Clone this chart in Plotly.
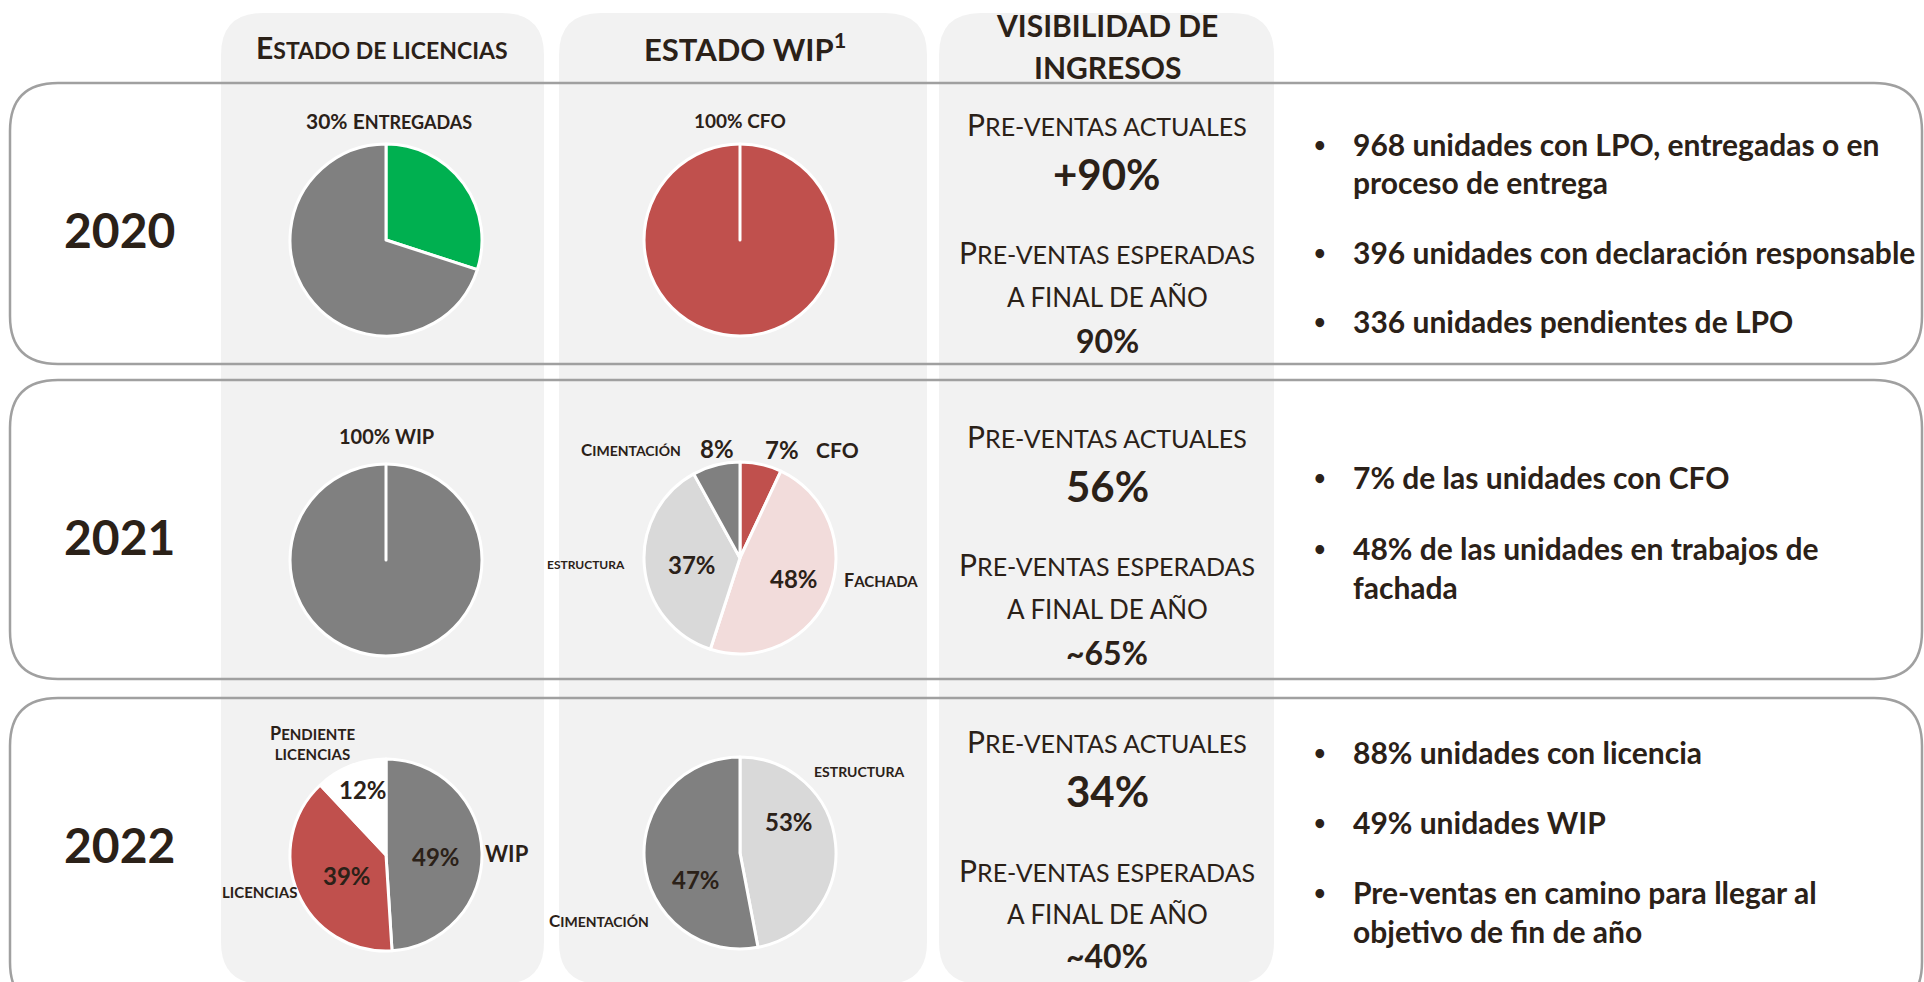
import plotly.graph_objects as go

# ---------------- data ----------------
years = ["2020", "2021", "2022"]

col_headers = ["Estado de licencias", "ESTADO WIP<sup>1</sup>", "VISIBILIDAD DE", "INGRESOS"]

# Estado de licencias (slices clockwise from 12 o'clock)
lic_2020_labels = ["Entregadas", "Resto"]
lic_2020_values = [30, 70]
lic_2021_labels = ["WIP", "Otros"]
lic_2021_values = [100, 0]
lic_2022_labels = ["WIP", "Licencias", "Pendiente licencias"]
lic_2022_values = [49, 39, 12]

# Estado WIP
wip_2020_labels = ["CFO", "Otros"]
wip_2020_values = [100, 0]
wip_2021_labels = ["CFO", "Fachada", "Estructura", "Cimentación"]
wip_2021_values = [7, 48, 37, 8]
wip_2022_labels = ["Estructura", "Cimentación"]
wip_2022_values = [47, 53]
wip_2022_text = ["53%", "47%"]

# Visibilidad de ingresos
preventas_actuales = ["+90%", "56%", "34%"]
preventas_esperadas = ["90%", "~65%", "~40%"]

bullets_2020 = [["968 unidades con LPO, entregadas o en", "proceso de entrega"],
                ["396 unidades con declaración responsable"],
                ["336 unidades pendientes de LPO"]]
bullets_2021 = [["7% de las unidades con CFO"],
                ["48% de las unidades en trabajos de", "fachada"]]
bullets_2022 = [["88% unidades con licencia"],
                ["49% unidades WIP"],
                ["Pre-ventas en camino para llegar al", "objetivo de fin de año"]]

# ---------------- styling ----------------
W, H = 1924, 982
TXT = "#2b2118"
FONT = "Lato"
GREEN = "#00b050"
GREY = "#808080"
RED = "#c0504d"
PINK = "#f2dcdb"
LGREY = "#d9d9d9"
WHITE = "#ffffff"
PANEL = "#f2f2f2"

fig = go.Figure()

def rrect(x0, y0, x1, y1, r):
    return (f"M{x0+r},{y0} L{x1-r},{y0} Q{x1},{y0} {x1},{y0+r} L{x1},{y1-r} "
            f"Q{x1},{y1} {x1-r},{y1} L{x0+r},{y1} Q{x0},{y1} {x0},{y1-r} "
            f"L{x0},{y0+r} Q{x0},{y0} {x0+r},{y0} Z")

shapes = []
# column panels
for x0, x1 in [(221, 544), (559, 927), (939, 1274)]:
    shapes.append(dict(type="path", path=rrect(x0, 13, x1, 984, 42), xref="x", yref="y",
                       fillcolor=PANEL, line=dict(width=0), layer="below"))
# row boxes
for y0, y1 in [(83, 364), (380, 679), (698, 1010)]:
    shapes.append(dict(type="path", path=rrect(10, y0, 1922, y1, 48), xref="x", yref="y",
                       fillcolor="rgba(0,0,0,0)", line=dict(color="#a0a0a0", width=2.5), layer="below"))

R = 96
def add_pie(labels, values, colors, cx, cy):
    fig.add_trace(go.Pie(
        labels=labels, values=values, sort=False, direction="clockwise", rotation=0,
        marker=dict(colors=colors, line=dict(color=WHITE, width=3)),
        textinfo="none", hoverinfo="label+percent", showlegend=False,
        domain=dict(x=[(cx - R) / W, (cx + R) / W], y=[1 - (cy + R) / H, 1 - (cy - R) / H]),
    ))

add_pie(lic_2020_labels, lic_2020_values, [GREEN, GREY], 386, 240)
add_pie(wip_2020_labels, wip_2020_values, [RED, RED], 740, 240)
add_pie(lic_2021_labels, lic_2021_values, [GREY, GREY], 386, 560)
add_pie(wip_2021_labels, wip_2021_values, [RED, PINK, LGREY, GREY], 740, 558)
add_pie(lic_2022_labels, lic_2022_values, [GREY, RED, WHITE], 386, 855)
add_pie(wip_2022_labels, wip_2022_values, [LGREY, GREY], 740, 853)

def sc(text, big, small):
    """Manual small caps: capitalised initials at `big`, rest upper-cased at `small`."""
    out = []
    for word in text.split(" "):
        if word and word[0].isupper():
            out.append(f'<span style="font-size:{big}px">{word[0]}</span>'
                       f'<span style="font-size:{small}px">{word[1:].upper()}</span>')
        else:
            out.append(f'<span style="font-size:{small}px">{word.upper()}</span>')
    return " ".join(out)

anns = []
def ann(text, x, y, size, bold=True, xanchor="center", yanchor="middle"):
    anns.append(dict(text=text, x=x, y=y, xref="x", yref="y", showarrow=False,
                     xanchor=xanchor, yanchor=yanchor,
                     font=dict(family=FONT, size=size, color=TXT, weight=700 if bold else 400)))

# headers
ann(sc(col_headers[0], 30, 23), 382, 47, 23)
ann(col_headers[1], 745, 47, 31)
ann(col_headers[2], 1107, 25, 30)
ann(col_headers[3], 1107, 67, 30)

# years
for yv, yy in zip(years, [229, 536, 844]):
    ann(yv, 119, yy, 48)

# pie labels
ann(f"{lic_2020_values[0]}% " + sc("Entregadas", 21, 18), 389, 120, 21)
ann(f"{wip_2020_values[0]}% {wip_2020_labels[0]}", 740, 120, 19)
ann(f"{lic_2021_values[0]}% {lic_2021_labels[0]}", 386, 436, 20)

ann(sc("Cimentación", 17, 14), 683, 449, 14, xanchor="right")
ann(f"{wip_2021_values[3]}%", 717, 448, 24)
ann(f"{wip_2021_values[0]}%", 782, 449, 24)
ann("CFO", 837, 449, 21)
ann(sc("estructura", 12, 12), 627, 564, 12, xanchor="right")
ann(f"{wip_2021_values[2]}%", 692, 564, 24)
ann(f"{wip_2021_values[1]}%", 794, 578, 24)
ann(sc("Fachada", 18, 15), 842, 580, 15, xanchor="left")

ann(sc("Pendiente", 18, 15) + "<br>" + sc("licencias", 15, 15), 312, 742, 15)
ann(f"{lic_2022_values[2]}%", 363, 789, 24)
ann(f"{lic_2022_values[0]}%", 436, 856, 24)
ann("WIP", 507, 853, 22)
ann(f"{lic_2022_values[1]}%", 347, 875, 24)
ann(sc("licencias", 15, 15), 299, 892, 15, xanchor="right")

ann(sc("estructura", 14, 14), 859, 771, 14)
ann(wip_2022_text[0], 789, 821, 24)
ann(wip_2022_text[1], 696, 879, 24)
ann(sc("Cimentación", 17, 14), 599, 920, 14)

# middle column
CX = 1107
for (ya, yb, yc, yd, ye), a, e in zip(
        [(124, 174, 252, 297, 340), (436, 486, 564, 609, 652), (741, 791, 870, 914, 955)],
        preventas_actuales, preventas_esperadas):
    ann(sc("Pre-ventas actuales", 30, 25), CX, ya, 25, bold=False)
    ann(a, CX, yb, 42)
    ann(sc("Pre-ventas esperadas", 30, 25), CX, yc, 25, bold=False)
    ann(sc("a final de año", 26, 26), CX, yd, 26, bold=False)
    ann(e, CX, ye, 32)

# bullets
def add_bullets(items, ys):
    k = 0
    for item in items:
        for j, line in enumerate(item):
            if j == 0:
                ann("•", 1320, ys[k], 20, xanchor="center")
            ann(line, 1351, ys[k], 30, xanchor="left")
            k += 1

add_bullets(bullets_2020, [144, 182, 252, 321])
add_bullets(bullets_2021, [477, 548, 587])
add_bullets(bullets_2022, [752, 822, 892, 931])

fig.update_layout(
    width=W, height=H, margin=dict(l=0, r=0, t=0, b=0),
    paper_bgcolor=WHITE, plot_bgcolor="rgba(0,0,0,0)",
    xaxis=dict(range=[0, W], visible=False, fixedrange=True, domain=[0, 1]),
    yaxis=dict(range=[H, 0], visible=False, fixedrange=True, domain=[0, 1]),
    shapes=shapes, annotations=anns, showlegend=False,
)

fig.write_html("out.html", config={"displayModeBar": False},
               post_script="document.body.style.margin='0';document.body.style.overflow='hidden';")
